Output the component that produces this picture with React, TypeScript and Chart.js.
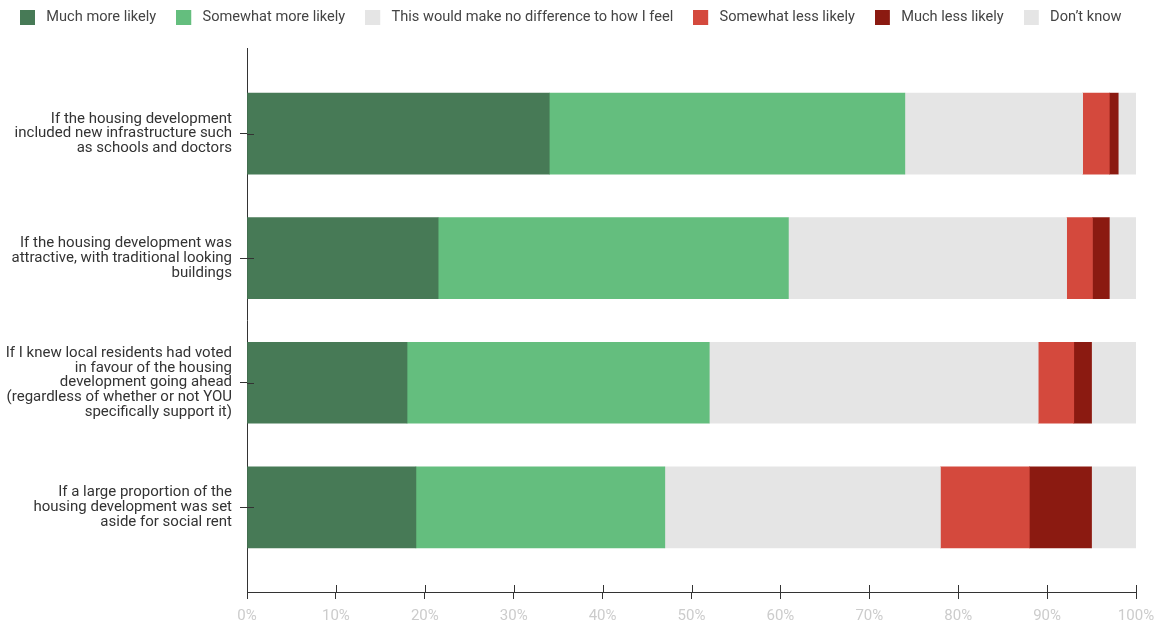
import React, { useEffect, useRef } from "react";
import { Chart, registerables } from "chart.js";

Chart.register(...registerables);

// Survey statements, one entry per bar (each line drawn as its own label row)
const STATEMENTS: string[][] = [
  ["If the housing development", "included new infrastructure such", "as schools and doctors"],
  ["If the housing development was", "attractive, with traditional looking", "buildings"],
  [
    "If I knew local residents had voted",
    "in favour of the housing",
    "development going ahead",
    "(regardless of whether or not YOU",
    "specifically support it)",
  ],
  ["If a large proportion of the", "housing development was set", "aside for social rent"],
];

// Share of respondents (%) per answer, in statement order
const MUCH_MORE = [34, 21.5, 18, 19];
const SOMEWHAT_MORE = [40, 39.4, 34, 28];
const NO_DIFFERENCE = [20, 31.3, 37, 31];
const SOMEWHAT_LESS = [3, 2.9, 4, 10];
const MUCH_LESS = [1, 1.9, 2, 7];
const DONT_KNOW = [2, 3, 5, 5];

const SERIES_NAMES = [
  "Much more likely",
  "Somewhat more likely",
  "This would make no difference to how I feel",
  "Somewhat less likely",
  "Much less likely",
  "Don\u2019t know",
];
const SERIES_COLORS = ["#477a56", "#64be7e", "#e5e5e5", "#d4493d", "#8b1a11", "#e5e5e5"];

const X_TICKS = [0, 10, 20, 30, 40, 50, 60, 70, 80, 90, 100];

const AXIS_COLOR = "#333333";
const TICK_LEN = 7;
const FONT = "Roboto";
const SWATCH = 15;
const SWATCH_SLOT = 19;

// Legend swatch: a filled square with a little clear space on its right,
// which sets the gap between the square and its label.
function makeSwatch(color: string): HTMLCanvasElement {
  const c = document.createElement("canvas");
  c.width = SWATCH_SLOT;
  c.height = SWATCH;
  const g = c.getContext("2d");
  if (g) {
    g.fillStyle = color;
    g.fillRect(0, 0, SWATCH, SWATCH);
  }
  return c;
}

// Draws the half of each tick mark that sits inside the plot area,
// so ticks cross the axis lines.
const crossingTicks = {
  id: "crossingTicks",
  afterDatasetsDraw(chart: any) {
    const { ctx, chartArea, scales } = chart;
    ctx.save();
    ctx.strokeStyle = AXIS_COLOR;
    ctx.lineWidth = 1;
    ctx.beginPath();
    scales.y.ticks.forEach((_: any, i: number) => {
      const py = Math.round(scales.y.getPixelForTick(i)) + 0.5;
      ctx.moveTo(chartArea.left, py);
      ctx.lineTo(chartArea.left + TICK_LEN, py);
    });
    scales.x.ticks.forEach((_: any, i: number) => {
      const px = Math.round(scales.x.getPixelForTick(i)) + 0.5;
      ctx.moveTo(px, chartArea.bottom);
      ctx.lineTo(px, chartArea.bottom - TICK_LEN);
    });
    ctx.stroke();
    ctx.restore();
  },
};

export default function App() {
  const canvasRef = useRef<HTMLCanvasElement | null>(null);

  useEffect(() => {
    if (!canvasRef.current) return;
    const seriesValues = [MUCH_MORE, SOMEWHAT_MORE, NO_DIFFERENCE, SOMEWHAT_LESS, MUCH_LESS, DONT_KNOW];
    const swatches = SERIES_COLORS.map(makeSwatch);
    const defaultLabels = (Chart as any).defaults.plugins.legend.labels.generateLabels;

    const chart = new Chart(canvasRef.current, {
      type: "bar",
      data: {
        datasets: seriesValues.map((values, s) => ({
          label: SERIES_NAMES[s],
          data: values.map((v, i) => ({ x: v, y: i })),
          backgroundColor: SERIES_COLORS[s],
          borderWidth: 0,
          barThickness: 81,
        })),
      },
      options: {
        indexAxis: "y",
        animation: false,
        responsive: true,
        maintainAspectRatio: false,
        layout: { padding: { top: -10, left: 0, right: 0, bottom: 0 } },
        plugins: {
          legend: {
            position: "top",
            align: "start",
            labels: {
              usePointStyle: true,
              pointStyleWidth: SWATCH_SLOT,
              boxHeight: SWATCH,
              padding: 20,
              color: "#444444",
              font: { family: FONT, size: 14.6 },
              generateLabels: (c: any) =>
                defaultLabels(c).map((item: any, i: number) => ({ ...item, pointStyle: swatches[i] })),
            },
          },
          // empty block between the legend and the plot, used as a spacer
          subtitle: {
            display: true,
            text: "",
            position: "top",
            weight: 500,
            padding: 0,
            font: { family: FONT, size: 14.3, lineHeight: 1 },
          },
          tooltip: { enabled: false },
        },
        scales: {
          x: {
            type: "linear",
            stacked: true,
            min: 0,
            max: 100,
            afterBuildTicks: (scale: any) => {
              scale.ticks = X_TICKS.map((v) => ({ value: v }));
            },
            afterFit: (scale: any) => {
              scale.height = 31;
              scale.paddingRight = 25;
            },
            ticks: {
              color: "#cccccc",
              font: { family: FONT, size: 15 },
              padding: 8,
              maxRotation: 0,
              callback: (v: any) => `${v}%`,
            },
            grid: {
              drawOnChartArea: false,
              drawTicks: true,
              tickLength: TICK_LEN,
              color: AXIS_COLOR,
            },
            border: { display: true, color: AXIS_COLOR, width: 1 },
          },
          y: {
            type: "linear",
            stacked: true,
            reverse: true,
            offset: false,
            min: -0.68,
            max: STATEMENTS.length - 1 + 0.68,
            afterBuildTicks: (scale: any) => {
              scale.ticks = STATEMENTS.map((_, i) => ({ value: i }));
            },
            afterFit: (scale: any) => {
              scale.width = 247;
            },
            ticks: {
              autoSkip: false,
              color: "#333333",
              font: { family: FONT, size: 15, lineHeight: 0.975 },
              padding: 8,
              callback: (v: any) => STATEMENTS[v] ?? "",
            },
            grid: {
              offset: false,
              drawOnChartArea: false,
              drawTicks: true,
              tickLength: TICK_LEN,
              color: AXIS_COLOR,
            },
            border: { display: true, color: AXIS_COLOR, width: 1 },
          },
        },
      },
      plugins: [crossingTicks],
    } as any);

    return () => chart.destroy();
  }, []);

  return (
    <div style={{ position: "absolute", left: 0, top: 0, width: 1161, height: 623, background: "#ffffff" }}>
      <canvas ref={canvasRef} />
    </div>
  );
}
